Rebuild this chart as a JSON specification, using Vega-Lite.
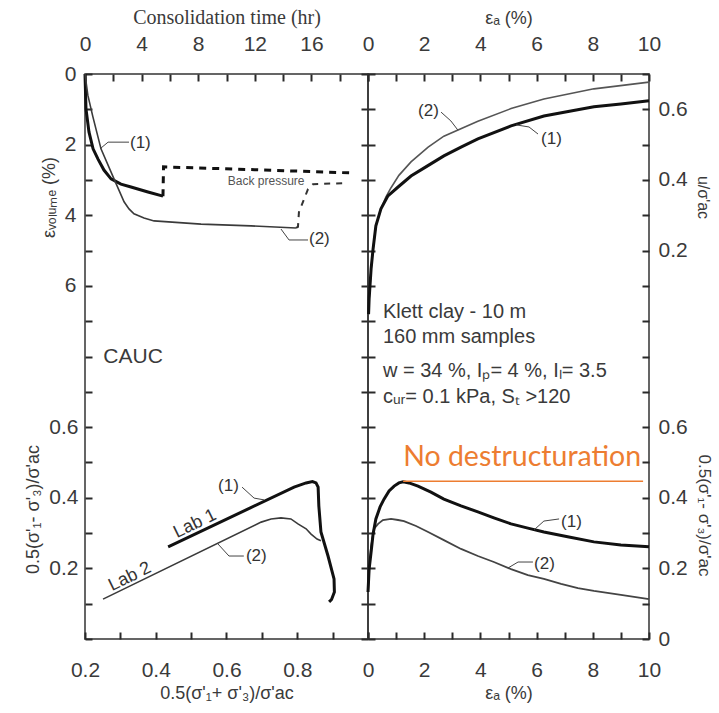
{
  "$schema": "https://vega.github.io/schema/vega-lite/v6.json",
  "padding": {"left": 24, "top": 6, "right": 0, "bottom": 0},
  "background": "white",
  "spacing": 0,
  "bounds": "flush",
  "config": {
    "font": "Liberation Sans",
    "view": {"stroke": "#333333", "strokeWidth": 1.5},
    "axis": {
      "grid": false, "domain": false, "offset": -7, "ticks": true,
      "tickColor": "#2a2a2a", "tickWidth": 2, "tickSize": 7, "tickOpacity": 1,
      "labelFont": "Liberation Sans", "labelFontSize": 21, "labelColor": "#3a3a3a",
      "titleFont": "Liberation Sans", "titleFontSize": 19, "titleColor": "#3a3a3a", "titleFontWeight": "normal",
      "labelFlush": false, "labelOverlap": false, "labelBound": false
    }
  },
  "datasets": {
    "cons": [
      {"test": "1", "phase": "consolidation", "i": 0, "time_hr": 0, "eps_vol": 0},
      {"test": "1", "phase": "consolidation", "i": 1, "time_hr": 0.04, "eps_vol": 0.57},
      {"test": "1", "phase": "consolidation", "i": 2, "time_hr": 0.07, "eps_vol": 0.99},
      {"test": "1", "phase": "consolidation", "i": 3, "time_hr": 0.28, "eps_vol": 1.64},
      {"test": "1", "phase": "consolidation", "i": 4, "time_hr": 0.57, "eps_vol": 2.12},
      {"test": "1", "phase": "consolidation", "i": 5, "time_hr": 0.92, "eps_vol": 2.41},
      {"test": "1", "phase": "consolidation", "i": 6, "time_hr": 1.34, "eps_vol": 2.72},
      {"test": "1", "phase": "consolidation", "i": 7, "time_hr": 1.84, "eps_vol": 2.97},
      {"test": "1", "phase": "consolidation", "i": 8, "time_hr": 2.54, "eps_vol": 3.12},
      {"test": "1", "phase": "consolidation", "i": 9, "time_hr": 3.25, "eps_vol": 3.2},
      {"test": "1", "phase": "consolidation", "i": 10, "time_hr": 4.45, "eps_vol": 3.34},
      {"test": "1", "phase": "consolidation", "i": 11, "time_hr": 5.51, "eps_vol": 3.46},
      {"test": "1", "phase": "back pressure", "i": 0, "time_hr": 5.51, "eps_vol": 3.46},
      {"test": "1", "phase": "back pressure", "i": 1, "time_hr": 5.55, "eps_vol": 2.63},
      {"test": "1", "phase": "back pressure", "i": 2, "time_hr": 12.0, "eps_vol": 2.71},
      {"test": "1", "phase": "back pressure", "i": 3, "time_hr": 18.7, "eps_vol": 2.8},
      {"test": "2", "phase": "consolidation", "i": 0, "time_hr": 0, "eps_vol": 0},
      {"test": "2", "phase": "consolidation", "i": 1, "time_hr": 0.2, "eps_vol": 0.6},
      {"test": "2", "phase": "consolidation", "i": 2, "time_hr": 0.55, "eps_vol": 1.2},
      {"test": "2", "phase": "consolidation", "i": 3, "time_hr": 1.13, "eps_vol": 2.12},
      {"test": "2", "phase": "consolidation", "i": 4, "time_hr": 2.05, "eps_vol": 2.97},
      {"test": "2", "phase": "consolidation", "i": 5, "time_hr": 2.76, "eps_vol": 3.62},
      {"test": "2", "phase": "consolidation", "i": 6, "time_hr": 3.11, "eps_vol": 3.82},
      {"test": "2", "phase": "consolidation", "i": 7, "time_hr": 3.46, "eps_vol": 3.96},
      {"test": "2", "phase": "consolidation", "i": 8, "time_hr": 4.17, "eps_vol": 4.08},
      {"test": "2", "phase": "consolidation", "i": 9, "time_hr": 4.88, "eps_vol": 4.16},
      {"test": "2", "phase": "consolidation", "i": 10, "time_hr": 8.2, "eps_vol": 4.25},
      {"test": "2", "phase": "consolidation", "i": 11, "time_hr": 11.73, "eps_vol": 4.3},
      {"test": "2", "phase": "consolidation", "i": 12, "time_hr": 14.91, "eps_vol": 4.36},
      {"test": "2", "phase": "back pressure", "i": 0, "time_hr": 14.91, "eps_vol": 4.36},
      {"test": "2", "phase": "back pressure", "i": 1, "time_hr": 15.05, "eps_vol": 4.33},
      {"test": "2", "phase": "back pressure", "i": 2, "time_hr": 15.12, "eps_vol": 3.91},
      {"test": "2", "phase": "back pressure", "i": 3, "time_hr": 15.76, "eps_vol": 3.26},
      {"test": "2", "phase": "back pressure", "i": 4, "time_hr": 16.11, "eps_vol": 3.12},
      {"test": "2", "phase": "back pressure", "i": 5, "time_hr": 18.3, "eps_vol": 3.09}
    ],
    "lead_tl": [
      {"lid": "1", "i": 0, "time_hr": 1.06, "eps_vol": 2.12},
      {"lid": "1", "i": 1, "time_hr": 1.63, "eps_vol": 1.93},
      {"lid": "1", "i": 2, "time_hr": 3.11, "eps_vol": 1.93},
      {"lid": "2", "i": 0, "time_hr": 13.85, "eps_vol": 4.39},
      {"lid": "2", "i": 1, "time_hr": 14.42, "eps_vol": 4.7},
      {"lid": "2", "i": 2, "time_hr": 15.76, "eps_vol": 4.7}
    ],
    "pore": [
      {"test": "1", "i": 0, "eps_a": 0.02, "u": 0.02},
      {"test": "1", "i": 1, "eps_a": 0.04, "u": 0.063},
      {"test": "1", "i": 2, "eps_a": 0.11, "u": 0.148},
      {"test": "1", "i": 3, "eps_a": 0.18, "u": 0.204},
      {"test": "1", "i": 4, "eps_a": 0.28, "u": 0.27},
      {"test": "1", "i": 5, "eps_a": 0.46, "u": 0.318},
      {"test": "1", "i": 6, "eps_a": 0.71, "u": 0.355},
      {"test": "1", "i": 7, "eps_a": 1.07, "u": 0.38},
      {"test": "1", "i": 8, "eps_a": 1.53, "u": 0.411},
      {"test": "1", "i": 9, "eps_a": 2.06, "u": 0.437},
      {"test": "1", "i": 10, "eps_a": 2.7, "u": 0.468},
      {"test": "1", "i": 11, "eps_a": 3.31, "u": 0.493},
      {"test": "1", "i": 12, "eps_a": 3.91, "u": 0.516},
      {"test": "1", "i": 13, "eps_a": 5.09, "u": 0.553},
      {"test": "1", "i": 14, "eps_a": 6.26, "u": 0.581},
      {"test": "1", "i": 15, "eps_a": 7.22, "u": 0.595},
      {"test": "1", "i": 16, "eps_a": 8.04, "u": 0.607},
      {"test": "1", "i": 17, "eps_a": 9.0, "u": 0.615},
      {"test": "1", "i": 18, "eps_a": 10, "u": 0.624},
      {"test": "2", "i": 0, "eps_a": 0.02, "u": 0.02},
      {"test": "2", "i": 1, "eps_a": 0.04, "u": 0.063},
      {"test": "2", "i": 2, "eps_a": 0.11, "u": 0.148},
      {"test": "2", "i": 3, "eps_a": 0.18, "u": 0.204},
      {"test": "2", "i": 4, "eps_a": 0.28, "u": 0.27},
      {"test": "2", "i": 5, "eps_a": 0.46, "u": 0.318},
      {"test": "2", "i": 6, "eps_a": 0.64, "u": 0.352},
      {"test": "2", "i": 7, "eps_a": 0.82, "u": 0.378},
      {"test": "2", "i": 8, "eps_a": 1.1, "u": 0.413},
      {"test": "2", "i": 9, "eps_a": 1.53, "u": 0.451},
      {"test": "2", "i": 10, "eps_a": 2.14, "u": 0.493},
      {"test": "2", "i": 11, "eps_a": 2.7, "u": 0.524},
      {"test": "2", "i": 12, "eps_a": 3.91, "u": 0.566},
      {"test": "2", "i": 13, "eps_a": 5.09, "u": 0.602},
      {"test": "2", "i": 14, "eps_a": 6.26, "u": 0.629},
      {"test": "2", "i": 15, "eps_a": 8.04, "u": 0.658},
      {"test": "2", "i": 16, "eps_a": 10, "u": 0.677}
    ],
    "lead_tr": [
      {"lid": "2", "i": 0, "eps_a": 2.6, "u": 0.592},
      {"lid": "2", "i": 1, "eps_a": 2.95, "u": 0.567},
      {"lid": "2", "i": 2, "eps_a": 3.2, "u": 0.541},
      {"lid": "1", "i": 0, "eps_a": 5.27, "u": 0.556},
      {"lid": "1", "i": 1, "eps_a": 5.73, "u": 0.55},
      {"lid": "1", "i": 2, "eps_a": 6.05, "u": 0.53}
    ],
    "path": [
      {"test": "1", "i": 0, "p": 0.435, "q": 0.261},
      {"test": "1", "i": 1, "p": 0.791, "q": 0.43},
      {"test": "1", "i": 2, "p": 0.825, "q": 0.442},
      {"test": "1", "i": 3, "p": 0.843, "q": 0.446},
      {"test": "1", "i": 4, "p": 0.853, "q": 0.442},
      {"test": "1", "i": 5, "p": 0.859, "q": 0.43},
      {"test": "1", "i": 6, "p": 0.861, "q": 0.377},
      {"test": "1", "i": 7, "p": 0.867, "q": 0.303},
      {"test": "1", "i": 8, "p": 0.887, "q": 0.235},
      {"test": "1", "i": 9, "p": 0.904, "q": 0.17},
      {"test": "1", "i": 10, "p": 0.905, "q": 0.133},
      {"test": "1", "i": 11, "p": 0.897, "q": 0.112},
      {"test": "1", "i": 12, "p": 0.89, "q": 0.105},
      {"test": "2", "i": 0, "p": 0.251, "q": 0.113},
      {"test": "2", "i": 1, "p": 0.698, "q": 0.331},
      {"test": "2", "i": 2, "p": 0.726, "q": 0.34},
      {"test": "2", "i": 3, "p": 0.754, "q": 0.343},
      {"test": "2", "i": 4, "p": 0.782, "q": 0.34},
      {"test": "2", "i": 5, "p": 0.802, "q": 0.326},
      {"test": "2", "i": 6, "p": 0.825, "q": 0.312},
      {"test": "2", "i": 7, "p": 0.839, "q": 0.297},
      {"test": "2", "i": 8, "p": 0.856, "q": 0.283},
      {"test": "2", "i": 9, "p": 0.867, "q": 0.278}
    ],
    "lead_bl": [
      {"lid": "1", "i": 0, "p": 0.644, "q": 0.43},
      {"lid": "1", "i": 1, "p": 0.678, "q": 0.399},
      {"lid": "1", "i": 2, "p": 0.706, "q": 0.394},
      {"lid": "2", "i": 0, "p": 0.576, "q": 0.269},
      {"lid": "2", "i": 1, "p": 0.607, "q": 0.235},
      {"lid": "2", "i": 2, "p": 0.649, "q": 0.235}
    ],
    "shear": [
      {"test": "1", "i": 0, "eps_a": 0, "q": 0.133},
      {"test": "1", "i": 1, "eps_a": 0.04, "q": 0.198},
      {"test": "1", "i": 2, "eps_a": 0.11, "q": 0.246},
      {"test": "1", "i": 3, "eps_a": 0.18, "q": 0.297},
      {"test": "1", "i": 4, "eps_a": 0.28, "q": 0.34},
      {"test": "1", "i": 5, "eps_a": 0.43, "q": 0.374},
      {"test": "1", "i": 6, "eps_a": 0.57, "q": 0.396},
      {"test": "1", "i": 7, "eps_a": 0.75, "q": 0.419},
      {"test": "1", "i": 8, "eps_a": 0.93, "q": 0.433},
      {"test": "1", "i": 9, "eps_a": 1.1, "q": 0.442},
      {"test": "1", "i": 10, "eps_a": 1.25, "q": 0.445},
      {"test": "1", "i": 11, "eps_a": 1.46, "q": 0.442},
      {"test": "1", "i": 12, "eps_a": 1.78, "q": 0.433},
      {"test": "1", "i": 13, "eps_a": 2.24, "q": 0.416},
      {"test": "1", "i": 14, "eps_a": 2.7, "q": 0.396},
      {"test": "1", "i": 15, "eps_a": 3.31, "q": 0.377},
      {"test": "1", "i": 16, "eps_a": 3.91, "q": 0.36},
      {"test": "1", "i": 17, "eps_a": 4.48, "q": 0.343},
      {"test": "1", "i": 18, "eps_a": 5.09, "q": 0.326},
      {"test": "1", "i": 19, "eps_a": 5.69, "q": 0.314},
      {"test": "1", "i": 20, "eps_a": 6.26, "q": 0.303},
      {"test": "1", "i": 21, "eps_a": 7.15, "q": 0.289},
      {"test": "1", "i": 22, "eps_a": 8.04, "q": 0.275},
      {"test": "1", "i": 23, "eps_a": 9.0, "q": 0.266},
      {"test": "1", "i": 24, "eps_a": 10, "q": 0.261},
      {"test": "2", "i": 0, "eps_a": 0, "q": 0.133},
      {"test": "2", "i": 1, "eps_a": 0.04, "q": 0.198},
      {"test": "2", "i": 2, "eps_a": 0.11, "q": 0.261},
      {"test": "2", "i": 3, "eps_a": 0.21, "q": 0.312},
      {"test": "2", "i": 4, "eps_a": 0.36, "q": 0.326},
      {"test": "2", "i": 5, "eps_a": 0.53, "q": 0.337},
      {"test": "2", "i": 6, "eps_a": 0.82, "q": 0.34},
      {"test": "2", "i": 7, "eps_a": 1.07, "q": 0.337},
      {"test": "2", "i": 8, "eps_a": 1.28, "q": 0.334},
      {"test": "2", "i": 9, "eps_a": 1.71, "q": 0.32},
      {"test": "2", "i": 10, "eps_a": 2.14, "q": 0.303},
      {"test": "2", "i": 11, "eps_a": 2.7, "q": 0.28},
      {"test": "2", "i": 12, "eps_a": 3.31, "q": 0.255},
      {"test": "2", "i": 13, "eps_a": 3.91, "q": 0.235},
      {"test": "2", "i": 14, "eps_a": 4.48, "q": 0.218},
      {"test": "2", "i": 15, "eps_a": 5.09, "q": 0.198},
      {"test": "2", "i": 16, "eps_a": 5.69, "q": 0.181},
      {"test": "2", "i": 17, "eps_a": 6.26, "q": 0.17},
      {"test": "2", "i": 18, "eps_a": 6.87, "q": 0.156},
      {"test": "2", "i": 19, "eps_a": 7.47, "q": 0.144},
      {"test": "2", "i": 20, "eps_a": 8.04, "q": 0.136},
      {"test": "2", "i": 21, "eps_a": 9.0, "q": 0.125},
      {"test": "2", "i": 22, "eps_a": 10, "q": 0.113}
    ],
    "lead_br": [
      {"lid": "1", "i": 0, "eps_a": 5.91, "q": 0.309},
      {"lid": "1", "i": 1, "eps_a": 6.26, "q": 0.334},
      {"lid": "1", "i": 2, "eps_a": 6.8, "q": 0.34},
      {"lid": "2", "i": 0, "eps_a": 4.98, "q": 0.201},
      {"lid": "2", "i": 1, "eps_a": 5.34, "q": 0.218},
      {"lid": "2", "i": 2, "eps_a": 5.87, "q": 0.218}
    ]
  },
  "hconcat": [
    {
      "width": 283,
      "height": 565,
      "layer": [
        {
          "encoding": {
            "x": {"field": "time_hr", "type": "quantitative",
              "scale": {"domain": [0, 20], "nice": false, "zero": false},
              "axis": {"orient": "top", "title": "Consolidation time (hr)", "titleFont": "Liberation Serif", "titleFontSize": 20,
                "values": [0, 4, 8, 12, 16], "ticks": false,
                "labelPadding": 27, "titlePadding": 6}},
            "y": {"field": "eps_vol", "type": "quantitative",
              "scale": {"domain": [0, 16], "reverse": true, "nice": false, "zero": false},
              "axis": {"orient": "left", "title": "εᵥₒₗᵤₘₑ (%)", "titleY": 123, "titleFontSize": 18,
                "values": [0, 2, 4, 6], "ticks": false,
                "labelPadding": 16, "titlePadding": 6}}
          },
          "layer": [
            {"data": {"name": "cons"}, "transform": [{"filter": "datum.test == '1' && datum.phase == 'consolidation'"}],
              "mark": {"type": "line", "color": "#111111", "strokeWidth": 3},
              "encoding": {"order": {"field": "i", "type": "quantitative"}}},
            {"data": {"name": "cons"}, "transform": [{"filter": "datum.test == '2' && datum.phase == 'consolidation'"}],
              "mark": {"type": "line", "color": "#3a3a3a", "strokeWidth": 1.6},
              "encoding": {"order": {"field": "i", "type": "quantitative"}}},
            {"data": {"name": "cons"}, "transform": [{"filter": "datum.test == '1' && datum.phase == 'back pressure'"}],
              "mark": {"type": "line", "color": "#111111", "strokeWidth": 3, "strokeDash": [7, 6]},
              "encoding": {"order": {"field": "i", "type": "quantitative"}}},
            {"data": {"name": "cons"}, "transform": [{"filter": "datum.test == '2' && datum.phase == 'back pressure'"}],
              "mark": {"type": "line", "color": "#333333", "strokeWidth": 2, "strokeDash": [6, 6]},
              "encoding": {"order": {"field": "i", "type": "quantitative"}}},
            {"data": {"name": "lead_tl"},
              "mark": {"type": "line", "color": "#444444", "strokeWidth": 1},
              "encoding": {"detail": {"field": "lid"}, "order": {"field": "i", "type": "quantitative"}}},
            {"data": {"values": [
                {"label": "(1)", "time_hr": 3.18, "eps_vol": 1.95},
                {"label": "(2)", "time_hr": 15.83, "eps_vol": 4.67}
              ]},
              "mark": {"type": "text", "align": "left", "baseline": "middle", "fontSize": 17, "color": "#333333"},
              "encoding": {"text": {"field": "label"}}}
          ]
        },
        {
          "encoding": {
            "x": {"field": "p", "type": "quantitative",
              "scale": {"domain": [0.2, 1.0], "nice": false, "zero": false},
              "axis": {"orient": "bottom", "title": "0.5(σ'₁+ σ'₃)/σ'ac", "titleFontSize": 18,
                "values": [0.2, 0.4, 0.6, 0.8], "ticks": false, "format": ".1f",
                "labelPadding": 27, "titlePadding": 4}},
            "y": {"field": "q", "type": "quantitative",
              "scale": {"domain": [0, 1.6], "nice": false, "zero": false},
              "axis": {"orient": "left", "title": "0.5(σ'₁- σ'₃)/σ'ac", "titleY": 435, "titleFontSize": 18,
                "values": [0.2, 0.4, 0.6], "ticks": false, "format": ".1f",
                "labelPadding": 14, "titlePadding": 6}}
          },
          "layer": [
            {"data": {"name": "path"}, "transform": [{"filter": "datum.test == '1'"}],
              "mark": {"type": "line", "color": "#111111", "strokeWidth": 3},
              "encoding": {"order": {"field": "i", "type": "quantitative"}}},
            {"data": {"name": "path"}, "transform": [{"filter": "datum.test == '2'"}],
              "mark": {"type": "line", "color": "#3a3a3a", "strokeWidth": 1.6},
              "encoding": {"order": {"field": "i", "type": "quantitative"}}},
            {"data": {"name": "lead_bl"},
              "mark": {"type": "line", "color": "#444444", "strokeWidth": 1},
              "encoding": {"detail": {"field": "lid"}, "order": {"field": "i", "type": "quantitative"}}},
            {"data": {"values": [
                {"label": "(1)", "p": 0.576, "q": 0.433},
                {"label": "(2)", "p": 0.655, "q": 0.235}
              ]},
              "mark": {"type": "text", "align": "left", "baseline": "middle", "fontSize": 17, "color": "#333333"},
              "encoding": {"text": {"field": "label"}}},
            {"data": {"values": [
                {"label": "Lab 1", "p": 0.511, "q": 0.326},
                {"label": "Lab 2", "p": 0.327, "q": 0.176}
              ]},
              "mark": {"type": "text", "align": "center", "baseline": "middle", "fontSize": 18, "angle": -26, "color": "#333333"},
              "encoding": {"text": {"field": "label"}}}
          ]
        },
        {
          "data": {"values": [{"label": "CAUC", "p": 0.336, "q": 0.799}]},
          "mark": {"type": "text", "align": "center", "baseline": "middle", "fontSize": 21, "color": "#3a3a3a"},
          "encoding": {
            "x": {"field": "p", "type": "quantitative", "scale": {"domain": [0.2, 1.0], "nice": false, "zero": false},
              "axis": {"orient": "bottom", "labels": false, "title": null,
                "values": [0.2, 0.3, 0.4, 0.5, 0.6, 0.7, 0.8, 0.9, 1.0]}},
            "y": {"field": "q", "type": "quantitative", "scale": {"domain": [0, 1.6], "nice": false, "zero": false},
              "axis": {"orient": "right", "labels": false, "title": null,
                "values": [0, 0.1, 0.2, 0.3, 0.4, 0.5, 0.6, 0.7, 0.8, 0.9, 1.0, 1.1, 1.2, 1.3, 1.4, 1.5, 1.6]}},
            "text": {"field": "label"}
          }
        },
        {
          "data": {"values": [{"label": "Back pressure", "time_hr": 12.8, "eps_vol": 3.03}]},
          "mark": {"type": "text", "align": "center", "baseline": "middle", "fontSize": 12, "color": "#555555"},
          "encoding": {
            "x": {"field": "time_hr", "type": "quantitative", "scale": {"domain": [0, 20], "nice": false, "zero": false},
              "axis": {"orient": "top", "labels": false, "title": null,
                "values": [0, 2, 4, 6, 8, 10, 12, 14, 16, 18, 20]}},
            "y": {"field": "eps_vol", "type": "quantitative", "scale": {"domain": [0, 16], "reverse": true, "nice": false, "zero": false},
              "axis": {"orient": "left", "labels": false, "title": null,
                "values": [0, 1, 2, 3, 4, 5, 6, 7, 8, 9, 10, 11, 12, 13, 14, 15, 16]}},
            "text": {"field": "label"}
          }
        }
      ],
      "resolve": {"scale": {"x": "independent", "y": "independent"}}
    },
    {
      "width": 281,
      "height": 565,
      "layer": [
        {
          "encoding": {
            "x": {"field": "eps_a", "type": "quantitative",
              "scale": {"domain": [0, 10], "nice": false, "zero": false},
              "axis": {"orient": "top", "title": "εₐ (%)", "titleFontSize": 18,
                "values": [0, 2, 4, 6, 8, 10], "ticks": false,
                "labelPadding": 27, "titlePadding": 6}},
            "y": {"field": "u", "type": "quantitative",
              "scale": {"domain": [-0.9, 0.7], "nice": false, "zero": false},
              "axis": {"orient": "right", "title": "u/σ'ac", "titleY": 123, "titleFontSize": 16,
                "values": [0.2, 0.4, 0.6], "ticks": false, "format": ".1f",
                "labelPadding": 16, "titlePadding": 7}}
          },
          "layer": [
            {"data": {"name": "pore"}, "transform": [{"filter": "datum.test == '2'"}],
              "mark": {"type": "line", "color": "#555555", "strokeWidth": 1.6},
              "encoding": {"order": {"field": "i", "type": "quantitative"}}},
            {"data": {"name": "pore"}, "transform": [{"filter": "datum.test == '1'"}],
              "mark": {"type": "line", "color": "#111111", "strokeWidth": 3},
              "encoding": {"order": {"field": "i", "type": "quantitative"}}},
            {"data": {"name": "lead_tr"},
              "mark": {"type": "line", "color": "#444444", "strokeWidth": 1},
              "encoding": {"detail": {"field": "lid"}, "order": {"field": "i", "type": "quantitative"}}},
            {"data": {"values": [
                {"label": "(2)", "eps_a": 1.78, "u": 0.595},
                {"label": "(1)", "eps_a": 6.16, "u": 0.516}
              ]},
              "mark": {"type": "text", "align": "left", "baseline": "middle", "fontSize": 17, "color": "#333333"},
              "encoding": {"text": {"field": "label"}}}
          ]
        },
        {
          "encoding": {
            "x": {"field": "eps_a", "type": "quantitative",
              "scale": {"domain": [0, 10], "nice": false, "zero": false},
              "axis": {"orient": "bottom", "title": "εₐ (%)", "titleFontSize": 18,
                "values": [0, 2, 4, 6, 8, 10], "ticks": false,
                "labelPadding": 27, "titlePadding": 4}},
            "y": {"field": "q", "type": "quantitative",
              "scale": {"domain": [0, 1.6], "nice": false, "zero": false},
              "axis": {"orient": "right", "title": "0.5(σ'₁- σ'₃)/σ'ac", "titleY": 441, "titleFontSize": 17,
                "values": [0, 0.2, 0.4, 0.6], "ticks": false,
                "labelExpr": "datum.value < 0.05 ? '0' : format(datum.value, '.1f')",
                "labelPadding": 16, "titlePadding": 7}}
          },
          "layer": [
            {"data": {"name": "shear"}, "transform": [{"filter": "datum.test == '2'"}],
              "mark": {"type": "line", "color": "#444444", "strokeWidth": 1.8},
              "encoding": {"order": {"field": "i", "type": "quantitative"}}},
            {"data": {"name": "shear"}, "transform": [{"filter": "datum.test == '1'"}],
              "mark": {"type": "line", "color": "#111111", "strokeWidth": 3},
              "encoding": {"order": {"field": "i", "type": "quantitative"}}},
            {"data": {"name": "lead_br"},
              "mark": {"type": "line", "color": "#444444", "strokeWidth": 1},
              "encoding": {"detail": {"field": "lid"}, "order": {"field": "i", "type": "quantitative"}}},
            {"data": {"values": [
                {"label": "(1)", "eps_a": 6.87, "q": 0.331},
                {"label": "(2)", "eps_a": 5.91, "q": 0.212}
              ]},
              "mark": {"type": "text", "align": "left", "baseline": "middle", "fontSize": 17, "color": "#333333"},
              "encoding": {"text": {"field": "label"}}},
            {"data": {"values": [{"eps_a": 1.25, "eps_a_end": 9.79, "q": 0.447}]},
              "mark": {"type": "rule", "color": "#ED7D31", "strokeWidth": 1.5},
              "encoding": {"x2": {"field": "eps_a_end"}}}
          ]
        },
        {
          "data": {"values": [
            {"label": "Klett clay - 10 m", "eps_a": 0.53, "u": 0.026},
            {"label": "160 mm samples", "eps_a": 0.53, "u": -0.045},
            {"label": "w = 34 %, Iₚ= 4 %, Iₗ= 3.5", "eps_a": 0.53, "u": -0.141},
            {"label": "cᵤᵣ= 0.1 kPa, Sₜ >120", "eps_a": 0.53, "u": -0.215}
          ]},
          "mark": {"type": "text", "align": "left", "baseline": "middle", "fontSize": 20, "color": "#3a3a3a"},
          "encoding": {
            "x": {"field": "eps_a", "type": "quantitative", "scale": {"domain": [0, 10], "nice": false, "zero": false},
              "axis": {"orient": "bottom", "labels": false, "title": null,
                "values": [0, 1, 2, 3, 4, 5, 6, 7, 8, 9, 10]}},
            "y": {"field": "u", "type": "quantitative", "scale": {"domain": [-0.9, 0.7], "nice": false, "zero": false},
              "axis": {"orient": "left", "labels": false, "title": null,
                "values": [-0.9, -0.8, -0.7, -0.6, -0.5, -0.4, -0.3, -0.2, -0.1, 0, 0.1, 0.2, 0.3, 0.4, 0.5, 0.6, 0.7]}},
            "text": {"field": "label"}
          }
        },
        {
          "data": {"values": [{"label": "No destructuration", "eps_a": 1.25, "q": 0.49}]},
          "mark": {"type": "text", "align": "left", "baseline": "alphabetic", "font": "Lato", "fontSize": 28.5, "color": "#ED7D31"},
          "encoding": {
            "x": {"field": "eps_a", "type": "quantitative", "scale": {"domain": [0, 10], "nice": false, "zero": false},
              "axis": {"orient": "top", "labels": false, "title": null,
                "values": [0, 1, 2, 3, 4, 5, 6, 7, 8, 9, 10]}},
            "y": {"field": "q", "type": "quantitative", "scale": {"domain": [0, 1.6], "nice": false, "zero": false},
              "axis": {"orient": "right", "labels": false, "title": null,
                "values": [0, 0.1, 0.2, 0.3, 0.4, 0.5, 0.6, 0.7, 0.8, 0.9, 1.0, 1.1, 1.2, 1.3, 1.4, 1.5, 1.6]}},
            "text": {"field": "label"}
          }
        }
      ],
      "resolve": {"scale": {"x": "independent", "y": "independent"}}
    }
  ]
}
